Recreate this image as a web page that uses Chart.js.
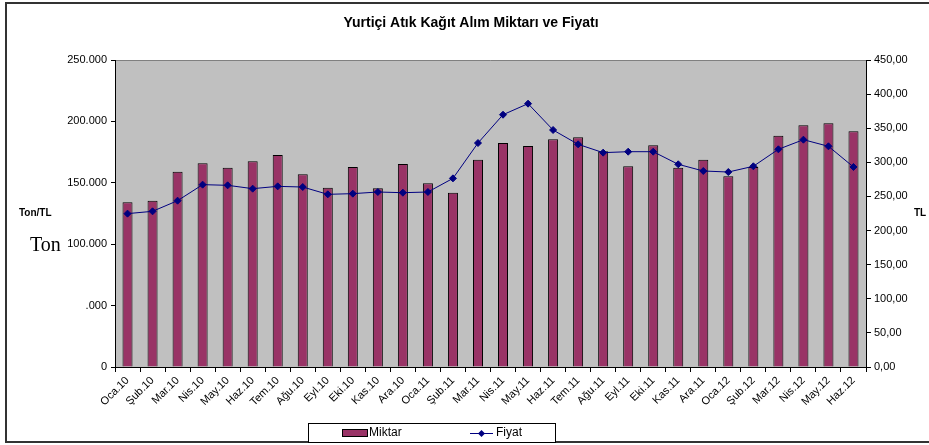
<!DOCTYPE html>
<html>
<head>
<meta charset="utf-8">
<script src="https://cdn.jsdelivr.net/npm/chart.js@4/dist/chart.umd.min.js"></script>
<style>
html,body{margin:0;padding:0;background:#fff;}
#wrap{width:929px;height:445px;position:relative;}
</style>
</head>
<body>
<div id="wrap"><canvas id="c" width="929" height="445"></canvas></div>
<script>
const categories = ["Oca.10","Şub.10","Mar.10","Nis.10","May.10","Haz.10","Tem.10","Ağu.10","Eyl.10","Eki.10","Kas.10","Ara.10",
  "Oca.11","Şub.11","Mar.11","Nis.11","May.11","Haz.11","Tem.11","Ağu.11","Eyl.11","Eki.11","Kas.11","Ara.11",
  "Oca.12","Şub.12","Mar.12","Nis.12","May.12","Haz.12"];
const miktar = [134100,135400,159000,165900,162300,167500,172600,156900,146000,162900,145500,165300,
  149600,141900,168800,182400,180000,185400,187000,175600,163400,180500,162300,168800,
  155300,162900,188400,196800,198500,191900];
const fiyat = [224.8,228.2,243.8,267.3,266.3,261.4,264.8,263.8,253.1,254.1,256.5,255.5,
  256.5,276.5,328.3,369.8,386.0,347.4,326.4,314.2,315.6,315.6,297.1,287.3,
  285.8,294.2,319.1,333.2,323.5,293.2];
const leftTickLabels = ["0",".000","100.000","150.000","200.000","250.000"];
const rightTickLabels = ["0,00","50,00","100,00","150,00","200,00","250,00","300,00","350,00","400,00","450,00"];
const titleText = "Yurtiçi Atık Kağıt Alım Miktarı ve Fiyatı";
const seriesNames = ["Miktar","Fiyat"];

const BAR = "#993366", LINE = "#000080";
const FONT = "'Liberation Sans', Arial, sans-serif";

const decor = {
  id: 'decor',
  beforeDraw(chart) {
    const ctx = chart.ctx, a = chart.chartArea;
    ctx.save();
    ctx.fillStyle = '#fff';
    ctx.fillRect(0, 0, chart.width, chart.height);
    ctx.fillStyle = '#C0C0C0';
    ctx.fillRect(a.left, a.top, a.right - a.left, a.bottom - a.top);
    ctx.strokeStyle = '#808080';
    ctx.lineWidth = 1;
    ctx.beginPath();
    ctx.moveTo(a.left, a.top + 0.5);
    ctx.lineTo(a.right, a.top + 0.5);
    ctx.stroke();
    ctx.restore();
  },
  afterDraw(chart) {
    const ctx = chart.ctx;
    ctx.save();
    ctx.strokeStyle = '#333';
    ctx.lineWidth = 2;
    ctx.strokeRect(6, 3, 940, 439);
    ctx.fillStyle = '#000';
    ctx.font = "bold 14px " + FONT;
    ctx.textAlign = 'center';
    ctx.textBaseline = 'middle';
    ctx.fillText(titleText, 471, 23);
    ctx.font = "bold 10px " + FONT;
    ctx.textAlign = 'left';
    ctx.fillText("Ton/TL", 19, 213);
    ctx.fillText("TL", 914, 213);
    ctx.font = "20px 'Liberation Serif', 'Times New Roman', serif";
    ctx.fillText("Ton", 30, 246);
    // legend
    ctx.fillStyle = '#fff';
    ctx.fillRect(308, 423, 247, 19);
    ctx.strokeStyle = '#000';
    ctx.lineWidth = 1;
    ctx.strokeRect(308.5, 423.5, 247, 19);
    ctx.fillStyle = BAR;
    ctx.fillRect(342, 429, 25, 7);
    ctx.strokeRect(342.5, 429.5, 25, 7);
    ctx.fillStyle = '#000';
    ctx.font = "12px " + FONT;
    ctx.textBaseline = 'middle';
    ctx.fillText(seriesNames[0], 369, 433);
    ctx.strokeStyle = LINE;
    ctx.beginPath();
    ctx.moveTo(470, 433.5);
    ctx.lineTo(493, 433.5);
    ctx.stroke();
    ctx.fillStyle = LINE;
    ctx.beginPath();
    ctx.moveTo(481.5, 430); ctx.lineTo(485, 433.5); ctx.lineTo(481.5, 437); ctx.lineTo(478, 433.5);
    ctx.closePath(); ctx.fill();
    ctx.fillStyle = '#000';
    ctx.fillText(seriesNames[1], 496, 433);
    ctx.restore();
  }
};

new Chart(document.getElementById('c'), {
  data: {
    labels: categories,
    datasets: [
      {
        type: 'line', label: seriesNames[1], data: fiyat, yAxisID: 'y1', order: 0,
        borderColor: LINE, backgroundColor: LINE, borderWidth: 1,
        pointStyle: 'rectRot', pointRadius: 3.5, pointBackgroundColor: LINE, pointBorderColor: LINE,
        tension: 0
      },
      {
        type: 'bar', label: seriesNames[0], data: miktar, yAxisID: 'y', order: 1,
        backgroundColor: BAR, borderColor: '#000', borderWidth: 1,
        categoryPercentage: 1.0, barPercentage: 0.4
      }
    ]
  },
  options: {
    responsive: false,
    animation: false,
    devicePixelRatio: 1,
    layout: { padding: { top: 60, left: 0, right: 0, bottom: 0 } },
    plugins: { legend: { display: false }, title: { display: false }, tooltip: { enabled: false } },
    scales: {
      x: {
        type: 'category', offset: true,
        grid: { display: true, drawOnChartArea: false, offset: true, tickLength: 5, color: '#000' },
        border: { color: '#000', width: 1 },
        ticks: { autoSkip: false, minRotation: 45, maxRotation: 45, color: '#000', padding: 2,
                 font: { family: FONT, size: 11 } },
        afterFit(s) { s.height = 78; }
      },
      y: {
        type: 'linear', position: 'left', min: 0, max: 250000,
        grid: { display: true, drawOnChartArea: false, tickLength: 4, color: '#000' },
        border: { color: '#000', width: 1 },
        ticks: { stepSize: 50000, color: '#000', padding: 4, font: { family: FONT, size: 11 },
                 callback: (v, i) => leftTickLabels[i] },
        afterFit(s) { s.width = 115; }
      },
      y1: {
        type: 'linear', position: 'right', min: 0, max: 450,
        grid: { display: true, drawOnChartArea: false, tickLength: 5, color: '#000' },
        border: { color: '#000', width: 1 },
        ticks: { stepSize: 50, color: '#000', padding: 3, font: { family: FONT, size: 11 },
                 callback: (v, i) => rightTickLabels[i] },
        afterFit(s) { s.width = 63; }
      }
    }
  },
  plugins: [decor]
});
</script>
</body>
</html>
